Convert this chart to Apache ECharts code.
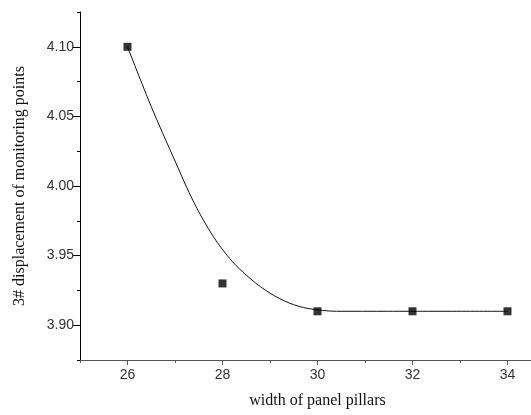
<!DOCTYPE html>
<html>
<head>
<meta charset="utf-8">
<script src="https://cdn.jsdelivr.net/npm/echarts@6/dist/echarts.min.js"></script>
<style>
  html, body { margin: 0; padding: 0; background: #fff; }
  #chart { width: 531px; height: 415px; }
</style>
</head>
<body>
<div id="chart"></div>
<script>
// measured points (square markers)
var pillarWidth = [26, 28, 30, 32, 34];
var displacement = [4.10, 3.93, 3.91, 3.91, 3.91];

// fitted curve
var fitX = [26, 26.5, 27, 27.4, 27.8, 28.2, 28.6, 29.0, 29.4, 29.8, 30.4, 31.5, 34];
var fitY = [4.100, 4.057, 4.018, 3.988, 3.964, 3.946, 3.933, 3.923, 3.916, 3.912, 3.910, 3.910, 3.910];

// tick positions
var xMajor = [26, 28, 30, 32, 34];
var xMinor = [25, 27, 29, 31, 33, 35];
var yMajor = [3.90, 3.95, 4.00, 4.05, 4.10];
var yMinor = [3.875, 3.925, 3.975, 4.025, 4.075, 4.125];

var labelFont = { fontFamily: 'Liberation Sans', fontSize: 14, color: '#333' };
var nameFont = { fontFamily: 'Liberation Serif', fontSize: 16, color: '#111' };

var chart = echarts.init(document.getElementById('chart'));

var option = {
    animation: false,
    backgroundColor: '#fff',
    // grid runs past the right edge, like the cropped original
    grid: { left: 80, top: 12, width: 475, height: 348, outerBoundsMode: 'none', containLabel: false },
    xAxis: [
        {
            type: 'value', min: 25, max: 35,
            name: 'width of panel pillars', nameLocation: 'middle', nameGap: 33,
            nameTextStyle: nameFont,
            axisLine: { show: true, lineStyle: { color: '#555', width: 1 } },
            axisTick: { show: true, length: 5, customValues: xMajor, lineStyle: { color: '#555' } },
            axisLabel: Object.assign({ customValues: xMajor, margin: 8 }, labelFont),
            splitLine: { show: false }
        },
        {
            type: 'value', min: 25, max: 35, position: 'bottom',
            axisLine: { show: false },
            axisTick: { show: true, length: 3, customValues: xMinor, lineStyle: { color: '#555' } },
            axisLabel: { show: false },
            splitLine: { show: false }
        }
    ],
    yAxis: [
        {
            type: 'value', min: 3.875, max: 4.125,
            name: '3# displacement of monitoring points', nameLocation: 'middle', nameGap: 52,
            nameTextStyle: nameFont,
            axisLine: { show: true, lineStyle: { color: '#000', width: 1 } },
            axisTick: { show: true, length: 7, customValues: yMajor, lineStyle: { color: '#000' } },
            axisLabel: Object.assign({
                customValues: yMajor, margin: 6,
                formatter: function (v) { return v.toFixed(2); }
            }, labelFont),
            splitLine: { show: false }
        },
        {
            type: 'value', min: 3.875, max: 4.125, position: 'left',
            axisLine: { show: false },
            axisTick: { show: true, length: 3, customValues: yMinor, lineStyle: { color: '#000' } },
            axisLabel: { show: false },
            splitLine: { show: false }
        }
    ],
    series: [
        {
            type: 'line',
            data: fitX.map(function (x, i) { return [x, fitY[i]]; }),
            smooth: 0.3,
            showSymbol: false,
            lineStyle: { color: '#111', width: 1 },
            z: 2
        },
        {
            type: 'scatter',
            data: pillarWidth.map(function (x, i) { return [x, displacement[i]]; }),
            symbol: 'rect',
            symbolSize: 8,
            itemStyle: { color: '#000' },
            z: 3
        }
    ]
};

chart.setOption(option);
</script>
</body>
</html>
